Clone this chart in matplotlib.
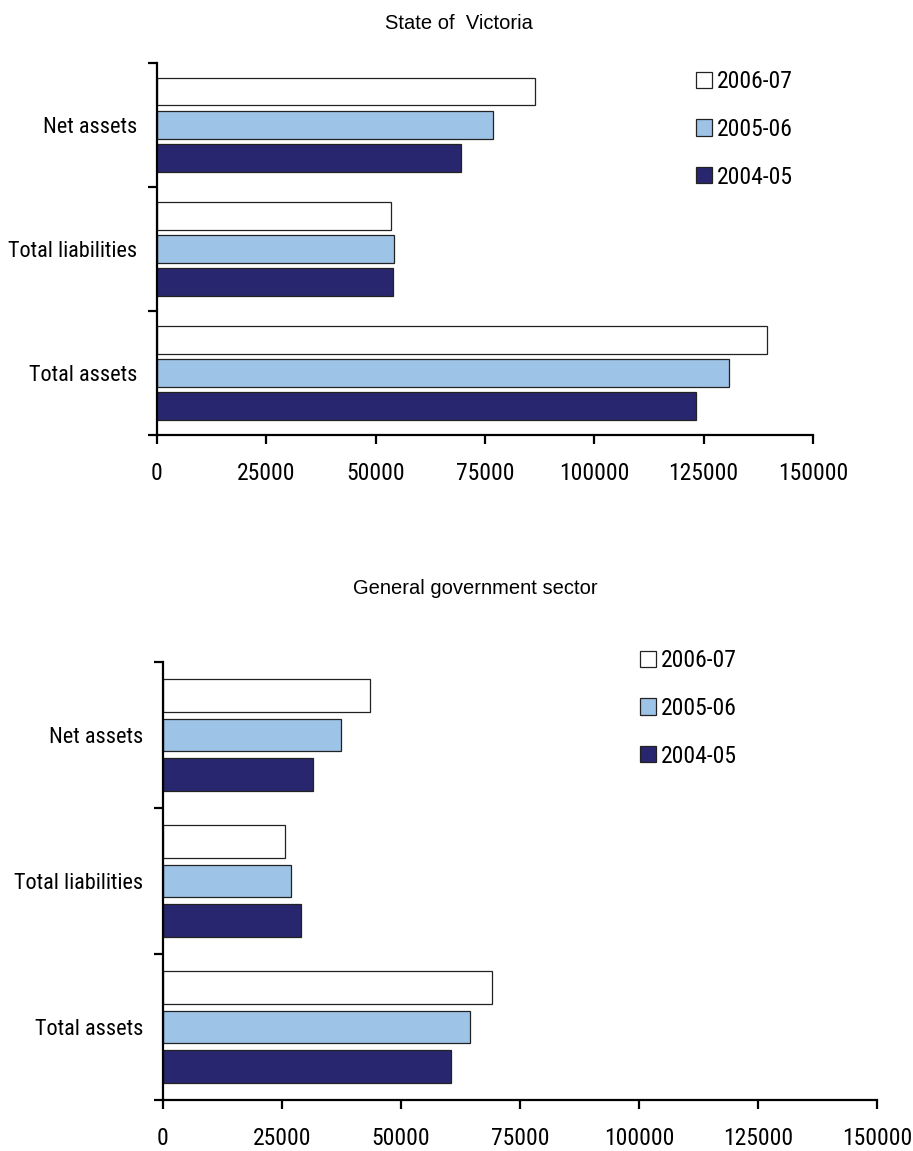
import numpy as np
import matplotlib
matplotlib.use('Agg')
import matplotlib.pyplot as plt
from matplotlib.patches import Patch

# data
categories = ['Total assets', 'Total liabilities', 'Net assets']
years = ['2006-07', '2005-06', '2004-05']

victoria_0607 = [139500, 53400, 86400]
victoria_0506 = [130900, 54300, 76800]
victoria_0405 = [123200, 53900, 69500]

ggs_0607 = [69100, 25600, 43500]
ggs_0506 = [64400, 26900, 37500]
ggs_0405 = [60600, 29000, 31600]

xticks = [0, 25000, 50000, 75000, 100000, 125000, 150000]

colors = ['#ffffff', '#9dc3e6', '#28266e']

narrow = ['Roboto Condensed', 'Liberation Sans', 'DejaVu Sans']
plain = ['Liberation Sans', 'DejaVu Sans']

fig = plt.figure(figsize=(9.13, 11.51), dpi=100)

def draw(ax, series, title_xy, title, leg_xy):
    y = np.arange(len(categories))
    pitch = 0.268
    h = 0.225
    for i, vals in enumerate(series):
        off = pitch * (1 - i)
        ax.barh(y + off, vals, height=h, color=colors[i], edgecolor='#222222', linewidth=0.9)
    ax.set_xlim(0, 150000)
    ax.set_ylim(-0.5, 2.5)
    ax.set_xticks(xticks)
    ax.set_xticklabels([str(v) for v in xticks], family=narrow, fontsize=17)
    ax.set_yticks([-0.5, 0.5, 1.5, 2.5])
    ax.set_yticklabels([])
    ax.set_yticks(y, minor=True)
    ax.set_yticklabels(categories, minor=True, family=narrow, fontsize=16)
    ax.tick_params(axis='y', which='minor', length=0, pad=14)
    ax.tick_params(axis='y', which='major', length=6.5, width=1.6, direction='out')
    ax.tick_params(axis='x', length=6.5, width=1.6, direction='out', pad=13)
    for s in ['top', 'right']:
        ax.spines[s].set_visible(False)
    for s in ['left', 'bottom']:
        ax.spines[s].set_linewidth(1.6)
    fig.text(title_xy[0], title_xy[1], title, ha='center', va='center',
             family=plain, fontsize=14.5)
    handles = [Patch(facecolor=colors[i], edgecolor='#222222', linewidth=0.9) for i in range(3)]
    fig.legend(handles, years, loc='upper left', bbox_to_anchor=leg_xy,
               frameon=False, borderpad=0, borderaxespad=0,
               handlelength=0.67, handleheight=0.67, handletextpad=0.2,
               labelspacing=1.05, prop={'family': narrow, 'size': 17})

ax1 = fig.add_axes([0.17196, 0.62207, 0.71851, 0.32346])
draw(ax1, [victoria_0607, victoria_0506, victoria_0405],
     (0.5022, 0.98), 'State of  Victoria', (696 / 913, 1 - 70 / 1151))

ax2 = fig.add_axes([0.17853, 0.04431, 0.78204, 0.38054])
draw(ax2, [ggs_0607, ggs_0506, ggs_0405],
     (0.521, 0.489), 'General government sector', (640 / 913, 1 - 649 / 1151))

fig.savefig('out.png', dpi=100)
